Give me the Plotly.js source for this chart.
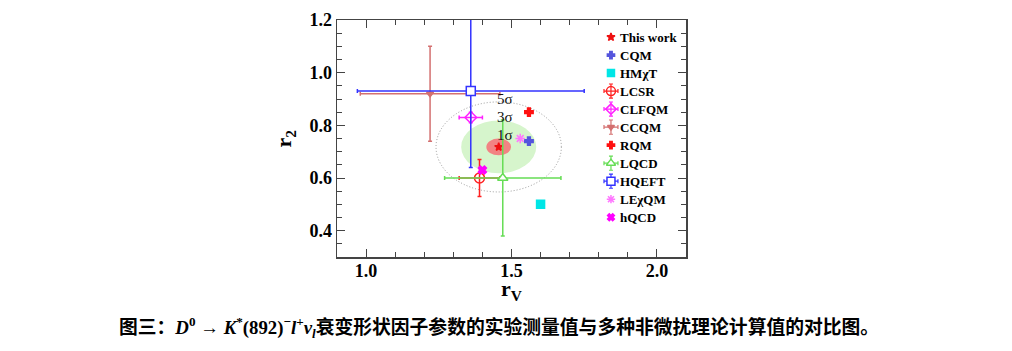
<!DOCTYPE html>
<html>
<head>
<meta charset="utf-8">
<script src="https://cdn.plot.ly/plotly-3.0.1.min.js"></script>
<style>html,body{margin:0;padding:0;background:#fff;}#chart{width:1012px;height:351px;}</style>
</head>
<body>
<div id="chart"></div>
<script>
// ---- data ----
const models = ['This work','CQM','HMχT','LCSR','CLFQM','CCQM','RQM','LQCD','HQEFT','LEχQM','hQCD'];
const rV     = [1.456, 1.56, 1.60, 1.39, 1.36, 1.22, 1.56, 1.47, 1.36, 1.53, 1.40];
const r2     = [0.718, 0.74, 0.50, 0.60, 0.83, 0.92, 0.85, 0.60, 0.93, 0.75, 0.63];
const rVErr  = [0, 0, 0, 0.07, 0.04, 0.24, 0, 0.20, 0.39, 0, 0];
const r2Err  = [0, 0, 0, 0.07, 0.02, 0.18, 0, 0.22, 0.29, 0, 0];
const sigmaLabels = ['1σ', '3σ', '5σ'];
const sigmaRV = [0.0425, 0.129, 0.2155];
const sigmaR2 = [0.032, 0.100, 0.171];
const xTickVals = [1.0, 1.5, 2.0];
const xTickText = ['1.0', '1.5', '2.0'];
const yTickVals = [0.4, 0.6, 0.8, 1.0, 1.2];
const yTickText = ['0.4', '0.6', '0.8', '1.0', '1.2'];
const xTitle = 'r<sub>V</sub>';
const yTitle = 'r<sub>2</sub>';
const caption = '图三：<span style="font-family:\'Liberation Serif\'"><b><i>D</i><sup>0</sup></b> → <b><i>K</i></b><sup>*</sup>(892)<sup>−</sup><b><i>l</i></b><sup>+</sup><b><i>ν</i><sub><i>l</i></sub></b></span>衰变形状因子参数的实验测量值与多种非微扰理论计算值的对比图。';

// ---- styles ----
const styles = [
  {symbol:'star', color:'#ee1111', fill:'#ee1111', size:6},
  {symbol:'cross', color:'#5555dd', fill:'#5555dd', size:7},
  {symbol:'square', color:'#00e6e6', fill:'#00e6e6', size:8},
  {symbol:'circle-open', color:'#ff2020', fill:'#ff2020', size:10},
  {symbol:'diamond-open', color:'#ff22ff', fill:'#ff22ff', size:9},
  {symbol:'triangle-down', color:'#d47070', fill:'#d47070', size:6},
  {symbol:'cross', color:'#ff1111', fill:'#ff1111', size:7},
  {symbol:'triangle-up', color:'#66dd55', fill:'#ffffff', size:9},
  {symbol:'square', color:'#3333ff', fill:'#ffffff', size:9},
  {symbol:'asterisk-open', color:'#ff77ff', fill:'#ff77ff', size:8},
  {symbol:'x', color:'#ff00ff', fill:'#ff00ff', size:7}
];

const traces = models.map((name, i) => {
  const s = styles[i];
  const t = {
    type:'scatter', mode:'markers', name:name, showlegend:false,
    x:[rV[i]], y:[r2[i]],
    marker:{symbol:s.symbol, size:s.size, color:s.fill, line:{color:s.color, width:1.5}},
    cliponaxis:true
  };
  if (rVErr[i] > 0) t.error_x = {type:'data', array:[rVErr[i]], color:s.color, thickness:1.5, width:2};
  if (r2Err[i] > 0) t.error_y = {type:'data', array:[r2Err[i]], color:s.color, thickness:1.5, width:2};
  return t;
});

// ---- manual legend (on a hidden overlay axis in plot-fraction units) ----
const legX = 0.785, legTextX = 0.804, legTop = 0.928, legStep = 0.076;
models.forEach((name, i) => {
  const s = styles[i];
  const t = {
    type:'scatter', mode:'markers', showlegend:false, xaxis:'x2', yaxis:'y2',
    x:[legX], y:[legTop - i * legStep],
    marker:{symbol:s.symbol, size:Math.max(s.size - 1, 6), color:s.fill, line:{color:s.color, width:1.5}},
    cliponaxis:false
  };
  if (rVErr[i] > 0) t.error_x = {type:'data', array:[0.02], color:s.color, thickness:1.2, width:2};
  if (r2Err[i] > 0) t.error_y = {type:'data', array:[0.03], color:s.color, thickness:1.2, width:2};
  traces.push(t);
});

const cx = rV[0], cy = r2[0];
const ellStyles = [
  {fillcolor:'#f28383', line:{width:0}},
  {fillcolor:'#d6f5cc', line:{width:0}},
  {fillcolor:'rgba(0,0,0,0)', line:{color:'#999', width:1, dash:'1px,2px'}}
];
const order = [2, 1, 0];
const shapes = order.map(i => Object.assign({
  type:'circle', xref:'x', yref:'y', layer:'below',
  x0:cx - sigmaRV[i], x1:cx + sigmaRV[i], y0:cy - sigmaR2[i], y1:cy + sigmaR2[i]
}, ellStyles[i]));

const annotations = sigmaLabels.map((lab, i) => ({
  x:cx + 0.02, y:cy + sigmaR2[i] + 0.012, xref:'x', yref:'y', text:lab, showarrow:false,
  font:{family:'Liberation Serif', size:15, color:'#111'}, xanchor:'center', yanchor:'middle'
}));
models.forEach((name, i) => annotations.push({
  x:legTextX, y:legTop - i * legStep, xref:'x2', yref:'y2', text:name, showarrow:false,
  font:{family:'Liberation Serif', size:13, color:'#000', weight:'bold'},
  xanchor:'left', yanchor:'middle'
}));
const titleFont = {family:'Liberation Serif', size:22, color:'#000', weight:'bold'};
annotations.push({x:0.5, y:-0.14, xref:'paper', yref:'paper', text:xTitle, showarrow:false,
  font:titleFont, xanchor:'center', yanchor:'middle'});
annotations.push({x:-0.149, y:0.5, xref:'paper', yref:'paper', text:yTitle, showarrow:false,
  font:titleFont, xanchor:'center', yanchor:'middle', textangle:-90});
annotations.push({
  x:0.4656, y:-0.295, xref:'paper', yref:'paper', text:caption, showarrow:false,
  font:{family:'Noto Sans CJK SC', size:18.8, color:'#000', weight:'bold'},
  xanchor:'center', yanchor:'middle'
});

const axisCommon = {
  showline:true, linecolor:'#444', linewidth:1.5, mirror:'allticks',
  ticks:'inside', ticklen:8, tickcolor:'#444', tickwidth:1,
  showgrid:false, zeroline:false,
  tickfont:{family:'Liberation Serif', size:18, color:'#000', weight:'bold'}
};

const layout = {
  width:1012, height:351,
  margin:{l:337, r:326, t:20, b:94},
  paper_bgcolor:'#fff', plot_bgcolor:'#fff',
  showlegend:false,
  xaxis:Object.assign({}, axisCommon, {
    range:[0.9, 2.1], tickmode:'array', tickvals:xTickVals, ticktext:xTickText,
    ticklabelstandoff:-3,
    minor:{dtick:0.1, tick0:0, ticks:'inside', ticklen:5, tickcolor:'#444'}
  }),
  yaxis:Object.assign({}, axisCommon, {
    range:[0.3, 1.2], tickmode:'array', tickvals:yTickVals, ticktext:yTickText,
    minor:{dtick:0.05, tick0:0, ticks:'inside', ticklen:5, tickcolor:'#444'}
  }),
  xaxis2:{overlaying:'x', range:[0, 1], visible:false, fixedrange:true},
  yaxis2:{overlaying:'y', range:[0, 1], visible:false, fixedrange:true},
  shapes:shapes,
  annotations:annotations
};

Plotly.newPlot('chart', traces, layout, {displayModeBar:false, staticPlot:true});
</script>
</body>
</html>
